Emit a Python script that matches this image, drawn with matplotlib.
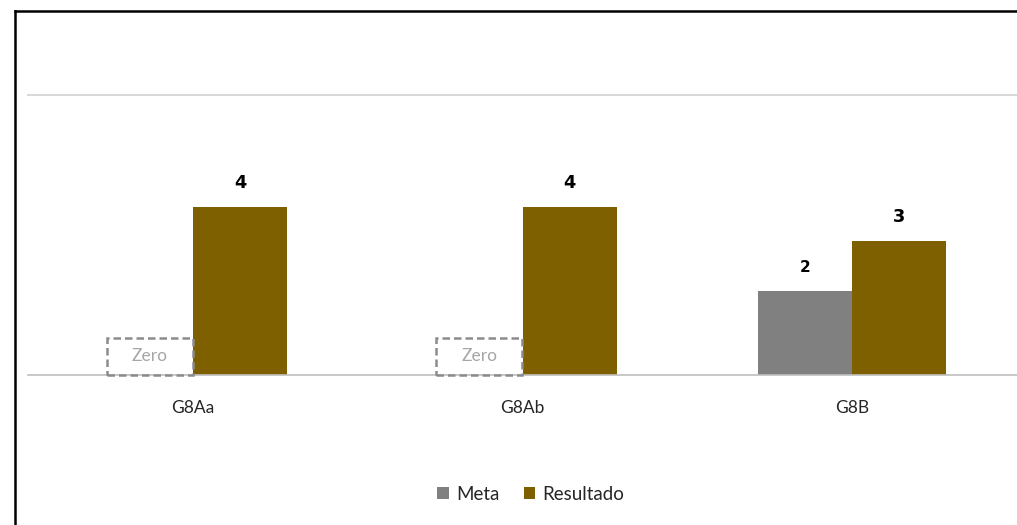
import matplotlib.pyplot as plt
import matplotlib.patches as mpatches
from matplotlib.lines import Line2D
import numpy as np

categories = ['G8Aa', 'G8Ab', 'G8B']
meta = [0, 0, 2]
resultado = [4, 4, 3.2]
zero_flags = [True, True, False]

GREY = '#808080'
GOLD = '#7f6000'
GRID = '#d9d9d9'
AXIS = '#bfbfbf'
TXT = '#262626'
FONT = ['Lato', 'DejaVu Sans']
BOLD = ['DejaVu Sans']

plt.rcParams['font.family'] = FONT

fig = plt.figure(figsize=(10.17, 5.25), dpi=100, facecolor='white')
ax = fig.add_axes([28 / 1017, 1 - 375 / 525, 989 / 1017, 280 / 525])

x = np.arange(len(categories))
w = 0.286
ax.bar(x - w / 2, meta, width=w, color=GREY, label='Meta', zorder=2)
ax.bar(x + w / 2, resultado, width=w, color=GOLD, label='Resultado', zorder=2)

ax.set_xlim(-0.5, len(categories) - 0.5)
ax.set_ylim(0, 280 / 42)

for s in ['top', 'right', 'left']:
    ax.spines[s].set_visible(False)
ax.spines['bottom'].set_color(AXIS)
ax.spines['bottom'].set_linewidth(1.2)
ax.axhline(280 / 42, color=GRID, linewidth=1.5, zorder=1, clip_on=False)

ax.set_yticks([])
ax.set_xticks(x)
ax.set_xticklabels(categories, fontsize=12.5, color=TXT)
ax.tick_params(axis='x', length=0, pad=18)

for i in range(len(categories)):
    r = resultado[i]
    ax.text(x[i] + w / 2, r + 0.57, f'{r:.0f}', ha='center', va='center',
            fontsize=12.8, fontweight='bold', color='black', family=BOLD)
    if zero_flags[i]:
        rect = mpatches.Rectangle((x[i] - w + 0.025, 0), w - 0.025, 0.88,
                                  fill=False, edgecolor='#8c8c8c', linewidth=1.8,
                                  linestyle=(0, (3, 1.6)), zorder=3, clip_on=False)
        ax.add_patch(rect)
        ax.text(x[i] - w / 2 + 0.012, 0.45, 'Zero', ha='center', va='center',
                fontsize=12.5, color='#a6a6a6')
    else:
        m = meta[i]
        ax.text(x[i] - w / 2, m + 0.55, f'{m:.0f}', ha='center', va='center',
                fontsize=11, fontweight='bold', color='black', family=BOLD)

leg = fig.legend(loc='center', bbox_to_anchor=(531 / 1017, 1 - 494 / 525),
                 ncol=2, frameon=False, fontsize=13.5, handlelength=0.6,
                 handleheight=0.6, handletextpad=0.4, columnspacing=1.3)
for t in leg.get_texts():
    t.set_color(TXT)

# outer frame (top and left edges visible)
fig.add_artist(Line2D([15 / 1017, 15 / 1017], [0, 1 - 11 / 525],
                      transform=fig.transFigure, color='black', linewidth=1.8))
fig.add_artist(Line2D([15 / 1017, 1], [1 - 11 / 525, 1 - 11 / 525],
                      transform=fig.transFigure, color='black', linewidth=1.8))

fig.savefig('out.png', dpi=100, facecolor='white')
